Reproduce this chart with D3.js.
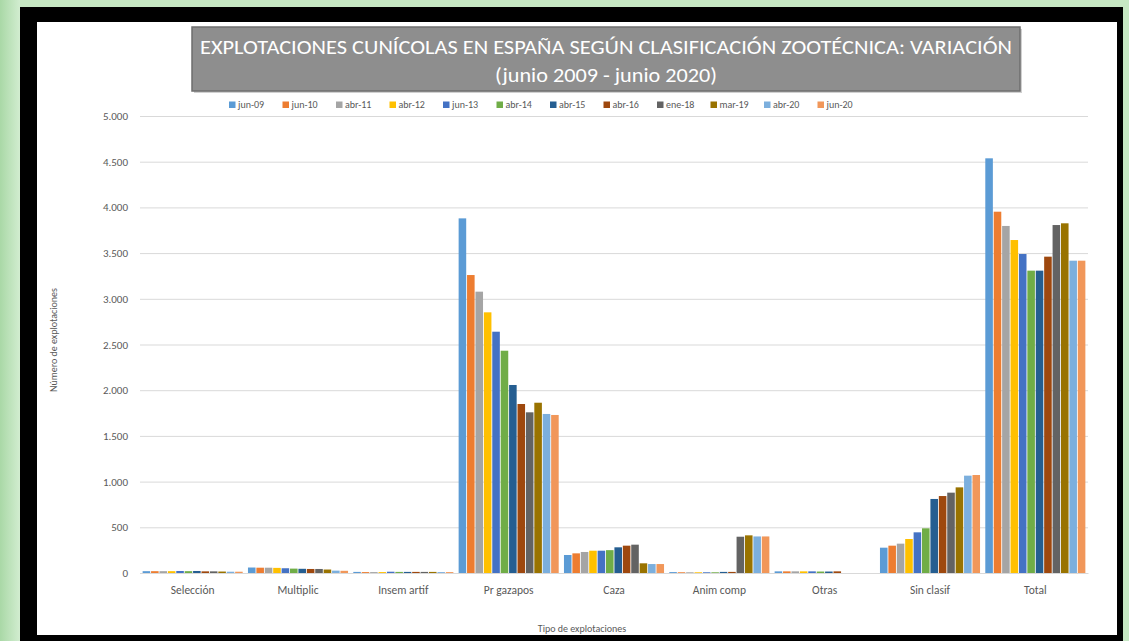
<!DOCTYPE html>
<html><head><meta charset="utf-8">
<script src="https://cdn.jsdelivr.net/npm/d3@7"></script>
<style>
html,body{margin:0;padding:0;background:#c4e6c2;}
svg{display:block;}
</style></head>
<body>
<svg id="chart" width="1129" height="641"></svg>
<script>
const categories = ["Selección","Multiplic","Insem artif","Pr gazapos","Caza","Anim comp","Otras","Sin clasif","Total"];
const seriesNames = ["jun-09","jun-10","abr-11","abr-12","jun-13","abr-14","abr-15","abr-16","ene-18","mar-19","abr-20","jun-20"];
const colors = ["#5B9BD5","#ED7D31","#A5A5A5","#FFC000","#4472C4","#70AD47","#255E91","#9E480E","#636363","#997300","#7CAFDD","#F1975A"];
// values per series, in category order
const jun09 = [20, 60, 12, 3880, 197, 10, 18, 277, 4537];
const jun10 = [20, 58, 10, 3260, 215, 8, 18, 299, 3953];
const abr11 = [20, 58, 10, 3078, 230, 8, 18, 321, 3797];
const abr12 = [20, 56, 10, 2852, 244, 8, 18, 372, 3643];
const jun13 = [22, 52, 14, 2640, 244, 8, 18, 445, 3490];
const abr14 = [20, 48, 12, 2432, 250, 8, 16, 489, 3308];
const abr15 = [22, 46, 12, 2057, 281, 12, 16, 810, 3308];
const abr16 = [18, 44, 12, 1849, 299, 12, 18, 842, 3461];
const ene18 = [18, 44, 12, 1758, 310, 397, 0, 879, 3807];
const mar19 = [16, 38, 12, 1863, 106, 412, 0, 937, 3826];
const abr20 = [14, 26, 10, 1740, 98, 400, 0, 1065, 3417];
const jun20 = [14, 24, 10, 1729, 98, 400, 0, 1072, 3417];
const seriesValues = [jun09,jun10,abr11,abr12,jun13,abr14,abr15,abr16,ene18,mar19,abr20,jun20];
const yTicks = [0,500,1000,1500,2000,2500,3000,3500,4000,4500,5000];
const titleLines = ["EXPLOTACIONES  CUNÍCOLAS EN ESPAÑA SEGÚN CLASIFICACIÓN ZOOTÉCNICA: VARIACIÓN", "(junio 2009 - junio 2020)"];
const yTitle = "Número de explotaciones";
const xTitle = "Tipo de explotaciones";

const svg = d3.select("#chart");
const font = "Carlito, 'Open Sans', 'Liberation Sans', sans-serif";

// frame
const defs = svg.append("defs");
const lg = defs.append("linearGradient").attr("id","gl").attr("x1","0").attr("x2","1");
lg.append("stop").attr("offset","0").attr("stop-color","#a9d8a6");
lg.append("stop").attr("offset","1").attr("stop-color","#d2edd0");
svg.append("rect").attr("x",0).attr("y",0).attr("width",1129).attr("height",641).attr("fill","#c6e7c3");
svg.append("rect").attr("x",0).attr("y",0).attr("width",20).attr("height",641).attr("fill","url(#gl)");
svg.append("rect").attr("x",20).attr("y",7).attr("width",1103).attr("height",634).attr("fill","#000");
svg.append("rect").attr("x",37).attr("y",22).attr("width",1080).attr("height",613).attr("fill","#fff");

// title box
svg.append("rect").attr("x",194).attr("y",29).attr("width",828).attr("height",64).attr("fill","#d0d0d0");
svg.append("rect").attr("x",192).attr("y",27).attr("width",828).attr("height",64)
  .attr("fill","#8e8e8e").attr("stroke","#6e6e6e").attr("stroke-width",1.5);
svg.append("text").attr("x",606).attr("y",54).attr("text-anchor","middle")
  .attr("font-family",font).attr("font-size",21).attr("font-weight",500).attr("fill","#fff")
  .attr("textLength",812).attr("lengthAdjust","spacingAndGlyphs").text(titleLines[0]);
svg.append("text").attr("x",606).attr("y",82).attr("text-anchor","middle")
  .attr("font-family",font).attr("font-size",21).attr("font-weight",500).attr("fill","#fff")
  .attr("textLength",222).attr("lengthAdjust","spacingAndGlyphs").text(titleLines[1]);

// plot
const pLeft = 140, pRight = 1088, pTop = 116, pBottom = 573;
const y = d3.scaleLinear().domain([0,5000]).range([pBottom, pTop]);
const x0 = d3.scaleBand().domain(categories).range([pLeft,pRight]).paddingInner(0.05).paddingOuter(0.025);
const x1 = d3.scaleBand().domain(seriesNames).range([0, x0.bandwidth()]).paddingInner(0.1);

const yAxis = d3.axisLeft(y).tickValues(yTicks).tickSize(-(pRight-pLeft)).tickPadding(12)
  .tickFormat(d => d3.format(",")(d).replace(/,/g,"."));
const gy = svg.append("g").attr("transform",`translate(${pLeft},0)`).call(yAxis);
gy.select(".domain").remove();
gy.selectAll(".tick line").attr("stroke","#d9d9d9").attr("stroke-width",1);
gy.selectAll(".tick text").attr("font-family",font).attr("font-size",11).attr("fill","#595959");

// bars
const data = [];
categories.forEach((c,ci)=>seriesNames.forEach((s,si)=>data.push({c, s, si, v: seriesValues[si][ci]})));
svg.append("g").selectAll("rect").data(data).join("rect")
  .attr("x", d => x0(d.c) + x1(d.s))
  .attr("width", x1.bandwidth())
  .attr("y", d => y(d.v))
  .attr("height", d => y(0) - y(d.v))
  .attr("fill", d => colors[d.si]);

// x axis
const xAxis = d3.axisBottom(x0).tickSize(0).tickPadding(13);
const gx = svg.append("g").attr("transform",`translate(0,${pBottom})`).call(xAxis);
gx.select(".domain").attr("stroke","#d9d9d9");
gx.selectAll(".tick text").attr("font-family",font).attr("font-size",11.5).attr("fill","#595959");

// legend
const leg = svg.append("g").attr("transform","translate(229,108)");
seriesNames.forEach((s,i)=>{
  const g = leg.append("g").attr("transform",`translate(${i*53.5},0)`);
  g.append("rect").attr("x",0).attr("y",-6.5).attr("width",6.5).attr("height",6.5).attr("fill",colors[i]);
  g.append("text").attr("x",9).attr("y",0).attr("font-family",font).attr("font-size",10).attr("fill","#595959").text(s);
});

// axis titles
svg.append("text").attr("transform","translate(57,340) rotate(-90)").attr("text-anchor","middle")
  .attr("font-family",font).attr("font-size",10).attr("fill","#595959").text(yTitle);
svg.append("text").attr("x",582).attr("y",632).attr("text-anchor","middle")
  .attr("font-family",font).attr("font-size",10).attr("fill","#595959").text(xTitle);
</script>
</body></html>
